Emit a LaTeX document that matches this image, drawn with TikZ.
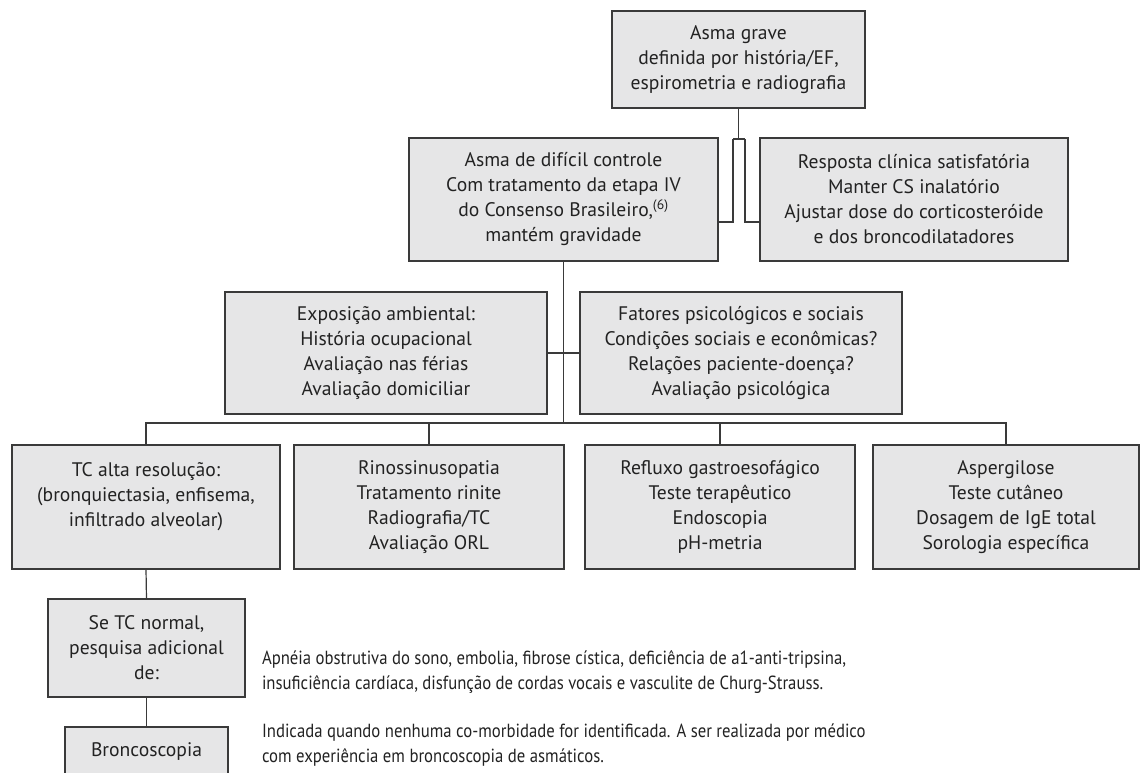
\documentclass[tikz,border=0pt]{standalone}
\usepackage{fontspec}
\setmainfont{PT Sans}
\newfontfamily\condfont[FakeStretch=0.88]{PT Sans}
\definecolor{boxfill}{HTML}{E6E6E7}
\definecolor{edge}{HTML}{3A3A3A}
\definecolor{ink}{HTML}{222222}
\tikzset{
  box/.style={draw=edge, fill=boxfill, line width=1.2pt, inner sep=0pt, outer sep=0pt,
    align=center, text=ink, font=\fontsize{19.6}{25}\selectfont},
  link/.style={draw=edge, line width=1.2pt},
  note/.style={inner sep=0pt, outer sep=0pt, align=left, text=ink,
    font=\condfont\fontsize{19}{25}\selectfont}
}
\begin{document}
\begin{tikzpicture}[x=1pt,y=-1pt]
\useasboundingbox (0,0) rectangle (1141,772);
% nodes
\node[box, minimum width=253, minimum height=97] (top) at (738.5,59.5)
  {Asma grave\\definida por história/EF,\\espirometria e radiografia};
\node[box, minimum width=309, minimum height=123] (diff) at (563.5,199.5)
  {Asma de difícil controle\\Com tratamento da etapa IV\\do Consenso Brasileiro,\textsuperscript{(6)}\\mantém gravidade};
\node[box, minimum width=308, minimum height=123] (resp) at (914,199.5)
  {Resposta clínica satisfatória\\Manter CS inalatório\\Ajustar dose do corticosteróide\\e dos broncodilatadores};
\node[box, minimum width=322, minimum height=122] (expo) at (386,353)
  {Exposição ambiental:\\História ocupacional\\Avaliação nas férias\\Avaliação domiciliar};
\node[box, minimum width=322, minimum height=122] (fat) at (741,353)
  {Fatores psicológicos e sociais\\Condições sociais e econômicas?\\Relações paciente-doença?\\Avaliação psicológica};
\node[box, minimum width=268, minimum height=124] (tc) at (146,507)
  {TC alta resolução:\\(bronquiectasia, enfisema,\\infiltrado alveolar)\\\mbox{}};
\node[box, minimum width=270, minimum height=124] (rino) at (429,507)
  {Rinossinusopatia\\Tratamento rinite\\Radiografia/TC\\Avaliação ORL};
\node[box, minimum width=270, minimum height=124] (refl) at (720,507)
  {Refluxo gastroesofágico\\Teste terapêutico\\Endoscopia\\pH-metria};
\node[box, minimum width=266, minimum height=124] (asp) at (1006,507)
  {Aspergilose\\Teste cutâneo\\Dosagem de IgE total\\Sorologia específica};
\node[box, minimum width=197, minimum height=98] (setc) at (146.5,648)
  {Se TC normal,\\pesquisa adicional\\de:};
\node[box, minimum width=163, minimum height=70, anchor=north] (bronc) at (146.5,727)
  {Broncoscopia\\\mbox{}};
\node[note, anchor=west] (apn) at (262,672)
  {Apnéia obstrutiva do sono, embolia, fibrose cística, deficiência de a1-anti-tripsina,\\insuficiência cardíaca, disfunção de cordas vocais e vasculite de Churg-Strauss.};
\node[note, anchor=west] (ind) at (262,745)
  {Indicada quando nenhuma co-morbidade for identificada. A ser realizada por médico\\com experiência em broncoscopia de asmáticos.};
% connectors
\coordinate (ja) at (738.5,139);
\coordinate (jl) at (733,139);
\coordinate (jr) at (745,139);
\draw[link] (top.south) -- (ja);
\draw[link] (jl) -- (jr);
\draw[link] (jl) |- ([yshift=-22.5pt]diff.east);
\draw[link] (jr) |- ([yshift=-22.5pt]resp.west);
\coordinate (bus) at (563.5,423);
\draw[link] (diff.south) -- (bus);
\draw[link] (expo.east) -- (fat.west);
\draw[link] (tc.north) -- (tc.north |- bus) -- (asp.north |- bus) -- (asp.north);
\draw[link] (rino.north) -- (rino.north |- bus);
\draw[link] (refl.north) -- (refl.north |- bus);
\draw[link] (tc.south) -- (setc.north);
\draw[link] (setc.south) -- (bronc.north);
\end{tikzpicture}
\end{document}
